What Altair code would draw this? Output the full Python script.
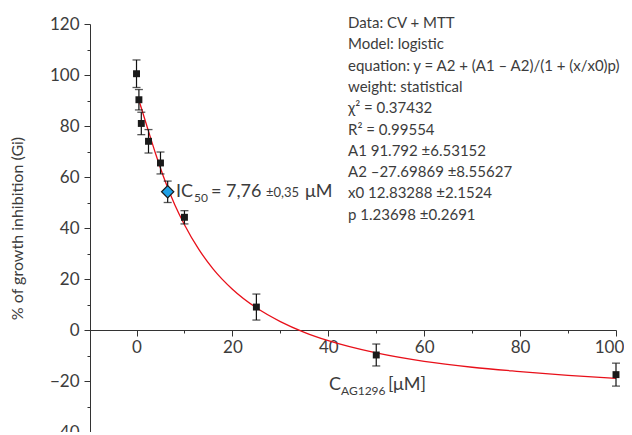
import altair as alt
import pandas as pd

# ---- data ----
conc = [0, 0.5, 1, 2.5, 5, 10, 25, 50, 100]
gi = [100.5, 90.3, 81.0, 74.0, 65.5, 44.2, 9.0, -9.8, -17.5]
gi_err = [5.4, 4.0, 4.4, 4.6, 4.3, 2.6, 5.1, 4.3, 4.5]

fit_x = [0.6, 2, 4, 6, 8, 10, 13, 16, 20, 25, 30, 35, 40, 50, 60, 70, 80, 90, 100]
fit_y = [89.5, 81.0, 69.0, 58.2, 49.0, 41.3, 31.6, 23.9, 16.0, 8.7, 3.3, -0.9, -4.2,
         -9.0, -12.3, -14.6, -16.3, -17.8, -19.0]

ic50_x = [6.5]
ic50_y = [54.2]
ic50_err = [4.2]

stats_lines = [
    "Data: CV + MTT",
    "Model: logistic",
    "equation: y = A2 + (A1 \u2013 A2)/(1 + (x/x0)p)",
    "weight: statistical",
    "\u03c7\u00b2 = 0.37432",
    "R\u00b2 = 0.99554",
    "A1 91.792 \u00b16.53152",
    "A2 \u201327.69869 \u00b18.55627",
    "x0 12.83288 \u00b12.1524",
    "p 1.23698 \u00b10.2691",
]

x_major = [0, 20, 40, 60, 80, 100]
x_minor = [10, 30, 50, 70, 90]
y_major = [-40, -20, 0, 20, 40, 60, 80, 100, 120]
y_minor = [-30, -10, 10, 30, 50, 70, 90, 110]

# ---- frames ----
pts = pd.DataFrame({"x": conc, "y": gi, "lo": [a - b for a, b in zip(gi, gi_err)],
                    "hi": [a + b for a, b in zip(gi, gi_err)]})
fit = pd.DataFrame({"x": fit_x, "y": fit_y})
ic = pd.DataFrame({"x": ic50_x, "y": ic50_y,
                   "lo": [a - b for a, b in zip(ic50_y, ic50_err)],
                   "hi": [a + b for a, b in zip(ic50_y, ic50_err)]})

FONT = "Lato"
TXT = "#3c3c3c"
W, H = 526, 408
xs = alt.Scale(domain=[-9.7, 100], nice=False, zero=False)
ys = alt.Scale(domain=[-40, 120], nice=False, zero=False)
X_OFF = -102

main_x = alt.Axis(values=x_major, title=None, orient="bottom", offset=X_OFF, grid=False,
                  tickSize=6, labelFontSize=17, labelFont=FONT, labelColor=TXT,
                  labelPadding=3, domainColor="#333", tickColor="#333", labelFlush=False,
                  labelOffset=alt.expr("datum.value == 100 ? -7 : 0"))
main_y = alt.Axis(values=y_major, title="% of growth inhibition (Gi)", orient="left", grid=False,
                  tickSize=6, labelFontSize=17, labelFont=FONT, labelColor=TXT,
                  labelPadding=5, domainColor="#333", tickColor="#333",
                  titleFont=FONT, titleFontSize=16, titleFontWeight="normal",
                  titleColor=TXT, titlePadding=24)
minor_x = alt.Axis(values=x_minor, title=None, orient="bottom", offset=X_OFF, grid=False,
                   labels=False, domain=False, tickSize=3, tickColor="#333")
minor_y = alt.Axis(values=y_minor, title=None, orient="left", grid=False,
                   labels=False, domain=False, tickSize=3, tickColor="#333")

curve = alt.Chart(fit).mark_line(color="#e8101a", strokeWidth=1.3, interpolate="monotone").encode(
    x=alt.X("x:Q", scale=xs, axis=main_x),
    y=alt.Y("y:Q", scale=ys, axis=main_y),
)

bars = alt.Chart(pts).mark_rule(color="#111", strokeWidth=1.2).encode(
    x=alt.X("x:Q", scale=xs, axis=None),
    y=alt.Y("lo:Q", scale=ys, axis=None),
    y2="hi:Q",
)
caps_lo = alt.Chart(pts).mark_tick(orient="horizontal", color="#111", size=8, thickness=1.3).encode(
    x=alt.X("x:Q", scale=xs, axis=None), y=alt.Y("lo:Q", scale=ys, axis=None))
caps_hi = alt.Chart(pts).mark_tick(orient="horizontal", color="#111", size=8, thickness=1.3).encode(
    x=alt.X("x:Q", scale=xs, axis=None), y=alt.Y("hi:Q", scale=ys, axis=None))

squares = alt.Chart(pts).mark_square(color="#1a1a1a", size=48, opacity=1).encode(
    x=alt.X("x:Q", scale=xs, axis=minor_x),
    y=alt.Y("y:Q", scale=ys, axis=minor_y),
)

ic_bar = alt.Chart(ic).mark_rule(color="#111", strokeWidth=1.2).encode(
    x=alt.X("x:Q", scale=xs, axis=None), y=alt.Y("lo:Q", scale=ys, axis=None), y2="hi:Q")
ic_lo = alt.Chart(ic).mark_tick(orient="horizontal", color="#111", size=8, thickness=1.3).encode(
    x=alt.X("x:Q", scale=xs, axis=None), y=alt.Y("lo:Q", scale=ys, axis=None))
ic_hi = alt.Chart(ic).mark_tick(orient="horizontal", color="#111", size=8, thickness=1.3).encode(
    x=alt.X("x:Q", scale=xs, axis=None), y=alt.Y("hi:Q", scale=ys, axis=None))
ic_pt = alt.Chart(ic).mark_point(shape="diamond", filled=True, color="#1ea0e6", stroke="#1a1a1a",
                                 strokeWidth=1.2, size=150, opacity=1).encode(
    x=alt.X("x:Q", scale=xs, axis=None), y=alt.Y("y:Q", scale=ys, axis=None))


def label(text, x, y, size, baseline="middle"):
    return alt.Chart(pd.DataFrame({"t": [text]})).mark_text(
        align="left", baseline=baseline, font=FONT, fontSize=size, color=TXT
    ).encode(x=alt.value(x), y=alt.value(y), text="t:N")


ic_label = [
    label("IC", 86, 168, 18),
    label("50", 104, 174, 12),
    label("= 7,76", 121, 168, 18),
    label("\u00b10,35", 176, 169, 13),
    label("\u03bcM", 215, 168, 18),
]

x_title = [
    label("C", 239, 366, 18, "alphabetic"),
    label("AG1296", 251, 371, 12, "alphabetic"),
    label("[\u03bcM]", 298, 366, 18, "alphabetic"),
]

stats = alt.Chart(pd.DataFrame({"t": ["\n".join(stats_lines)]})).mark_text(
    align="left", baseline="top", font=FONT, fontSize=15, color=TXT,
    lineBreak="\n", lineHeight=21.3
).encode(x=alt.value(258), y=alt.value(-8), text="t:N")

chart = alt.layer(
    curve, bars, caps_lo, caps_hi, squares, ic_bar, ic_lo, ic_hi, ic_pt,
    *ic_label, *x_title, stats
).resolve_axis(x="independent", y="independent").properties(
    width=W, height=H,
    autosize=alt.AutoSizeParams(type="none"),
    padding={"left": 82, "top": 16, "right": 8, "bottom": 0},
    background="white",
).configure_view(stroke=None)

chart.save("out.html", embed_options={"renderer": "svg", "actions": False})
